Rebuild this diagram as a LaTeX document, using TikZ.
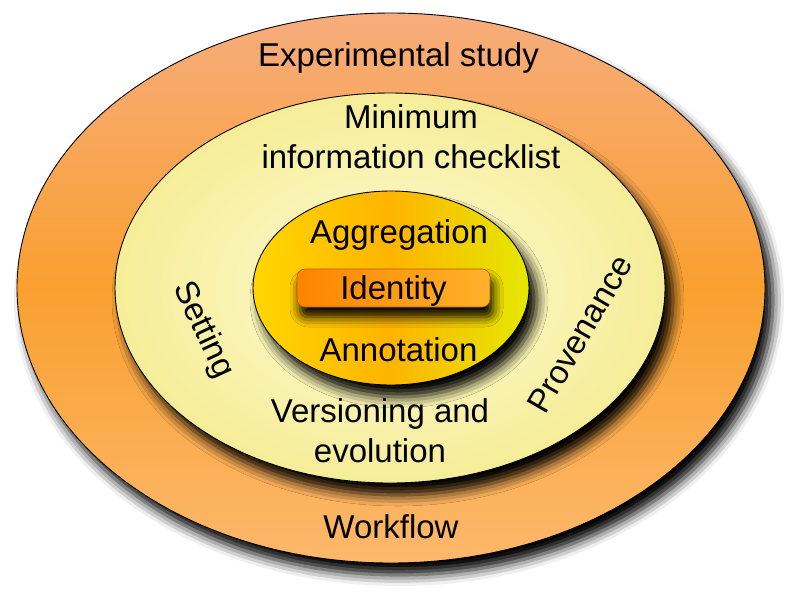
\documentclass[tikz,border=0pt]{standalone}
\usepackage{fontspec}
\setmainfont{Liberation Sans}
\usetikzlibrary{shadows.blur}
\definecolor{salmon}{HTML}{F7AC7C}
\definecolor{naranja}{HTML}{F9A030}
\definecolor{naranjaclaro}{HTML}{FDB86C}
\definecolor{crema}{HTML}{F5ED98}
\definecolor{cremaclaro}{HTML}{FEFCD6}
\definecolor{oro}{HTML}{FFD600}
\definecolor{ambar}{HTML}{FFB400}
\definecolor{limon}{HTML}{E4E800}
\definecolor{ident1}{HTML}{FF8400}
\definecolor{ident2}{HTML}{FFB22A}

\begin{document}
\begin{tikzpicture}[x=1pt,y=-1pt,font=\fontsize{33}{40}\selectfont,
    capa/.style={draw=black,line width=0.9pt,
      blur shadow={shadow xshift=8pt,shadow yshift=-12pt,shadow blur radius=11pt,shadow opacity=100}},
    idcaja/.style={draw=ident1!70!black,line width=0.6pt,rounded corners=8pt,
      left color=ident1,right color=ident2,
      blur shadow={shadow xshift=3pt,shadow yshift=-10pt,shadow blur radius=10pt,shadow opacity=100}}]
    \useasboundingbox (0,0) rectangle (795,598);

    % Elipse exterior
    \draw[capa,top color=salmon,bottom color=naranjaclaro,middle color=naranja] (391,288) ellipse [x radius=374,y radius=275];
    \node[anchor=base] (estudio) at (398.5,66) {Experimental study};
    \node[anchor=base] (flujo) at (391,538) {Workflow};

    % Elipse intermedia
    \draw[capa,inner color=cremaclaro,outer color=crema] (390,288) ellipse [x radius=275,y radius=195];
    \node[align=center] (lista) at (411,137) {Minimum\\information checklist};
    \node[align=center] (versiones) at (380,431) {Versioning and\\evolution};
    \node[rotate=-65] (entorno) at (203,330) {Setting};
    \node[rotate=60] (procedencia) at (580,334) {Provenance};

    % Elipse interior
    \draw[capa,left color=oro,right color=limon,middle color=ambar] (391,288) ellipse [x radius=138,y radius=97];
    \node[anchor=base] (agregacion) at (399,243) {Aggregation};
    \node[anchor=base] (anotacion) at (398.5,361) {Annotation};

    % Identidad
    \node[idcaja,minimum width=193pt,minimum height=38pt,text height=23pt,text depth=0pt] (identidad) at (393.5,288) {Identity};
\end{tikzpicture}
\end{document}
